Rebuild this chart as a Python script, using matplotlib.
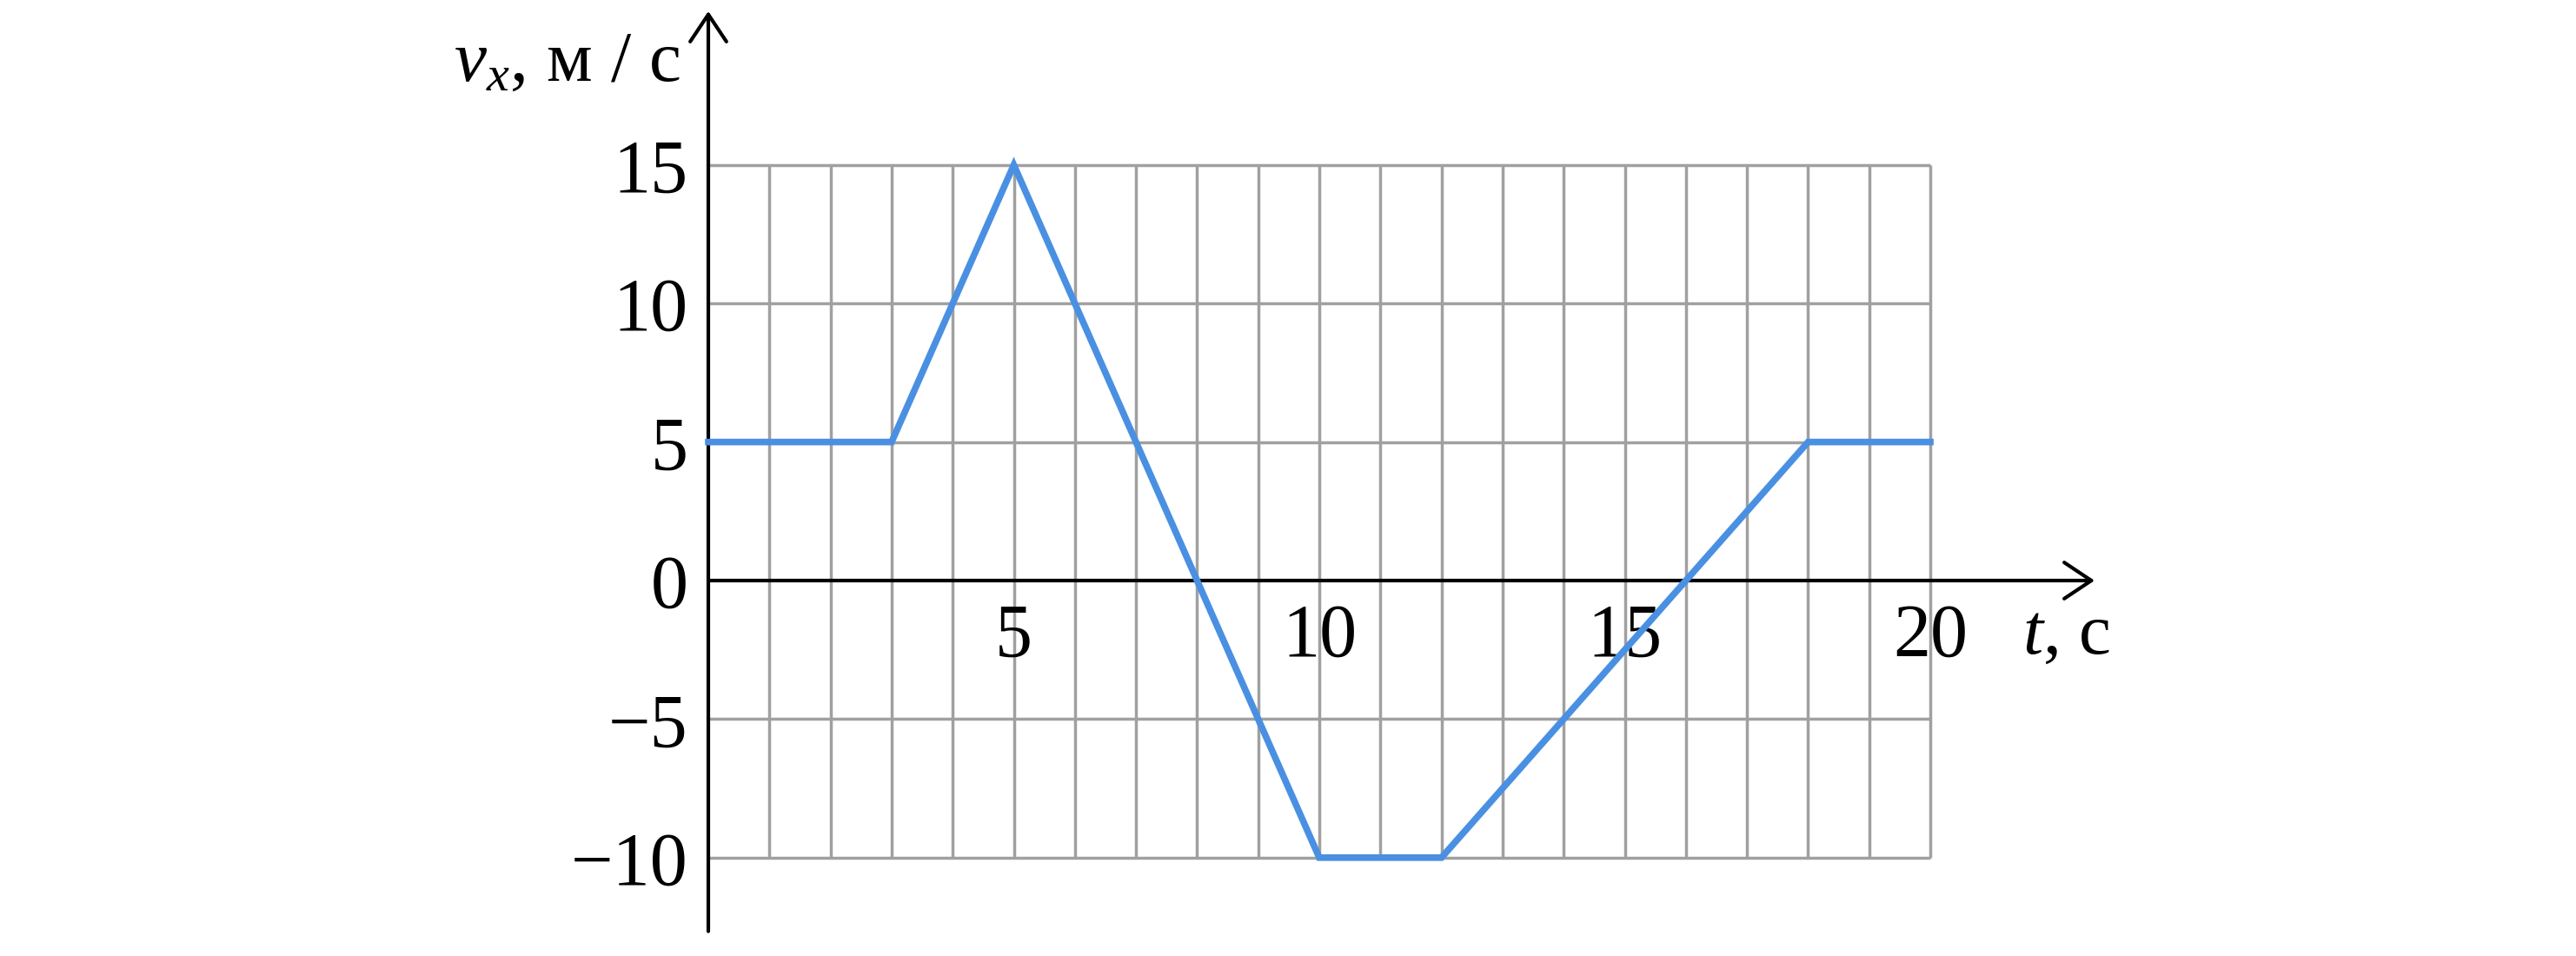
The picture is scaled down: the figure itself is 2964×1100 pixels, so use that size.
import matplotlib.pyplot as plt

plt.rcParams['font.family'] = ['Liberation Serif', 'DejaVu Serif']
plt.rcParams['mathtext.fontset'] = 'custom'
plt.rcParams['mathtext.rm'] = 'Liberation Serif'
plt.rcParams['mathtext.it'] = 'Liberation Serif:italic'

# velocity-time data
t = [0, 3, 5, 10, 12, 18, 20]
vx = [5, 5, 15, -10, -10, 5, 5]

x_ticks = [5, 10, 15, 20]
y_ticks = [15, 10, 5, 0, -5, -10]
y_tick_labels = ['15', '10', '5', '0', '−5', '−10']
grid_x = list(range(1, 21))
grid_y = [-10, -5, 5, 10, 15]

fig = plt.figure(figsize=(29.64, 11), dpi=100)
ax = fig.add_axes([0, 0, 1, 1])
ax.set_xlim(-815 / 70.3, (2964 - 815) / 70.3)
ax.set_ylim(-(1100 - 668) / 31.88, 668 / 31.88)
ax.axis('off')

grey = '#a0a0a0'
ax.vlines(grid_x, -10, 15, color=grey, lw=2.5, zorder=1)
ax.hlines(grid_y, 0, 20, color=grey, lw=2.5, zorder=1)

# axes with arrows
arrow = dict(arrowstyle='->,head_length=0.45,head_width=0.3', color='black',
             lw=3, mutation_scale=50, shrinkA=0, shrinkB=0)
ax.annotate('', xy=(0, 20.55), xytext=(0, -12.66), arrowprops=arrow, zorder=2)
ax.annotate('', xy=(22.69, 0), xytext=(0, 0), arrowprops=arrow, zorder=2)

fs = 62
for xt in x_ticks:
    ax.text(xt, -2.73, str(xt), ha='center', va='baseline', fontsize=fs, zorder=2)
for yt, lab in zip(y_ticks, y_tick_labels):
    ax.text(-0.33, yt - 0.97, lab, ha='right', va='baseline', fontsize=fs, zorder=2)

ax.text(-0.46, 18.04, r'$v_x$, м / с', ha='right', va='baseline', fontsize=60)
ax.text(21.51, -2.63, r'$t$, с', ha='left', va='baseline', fontsize=60)

ax.plot(t, vx, color='#4a90e2', lw=5.5, zorder=3, solid_joinstyle='miter')

fig.savefig('out.png', dpi=100)
